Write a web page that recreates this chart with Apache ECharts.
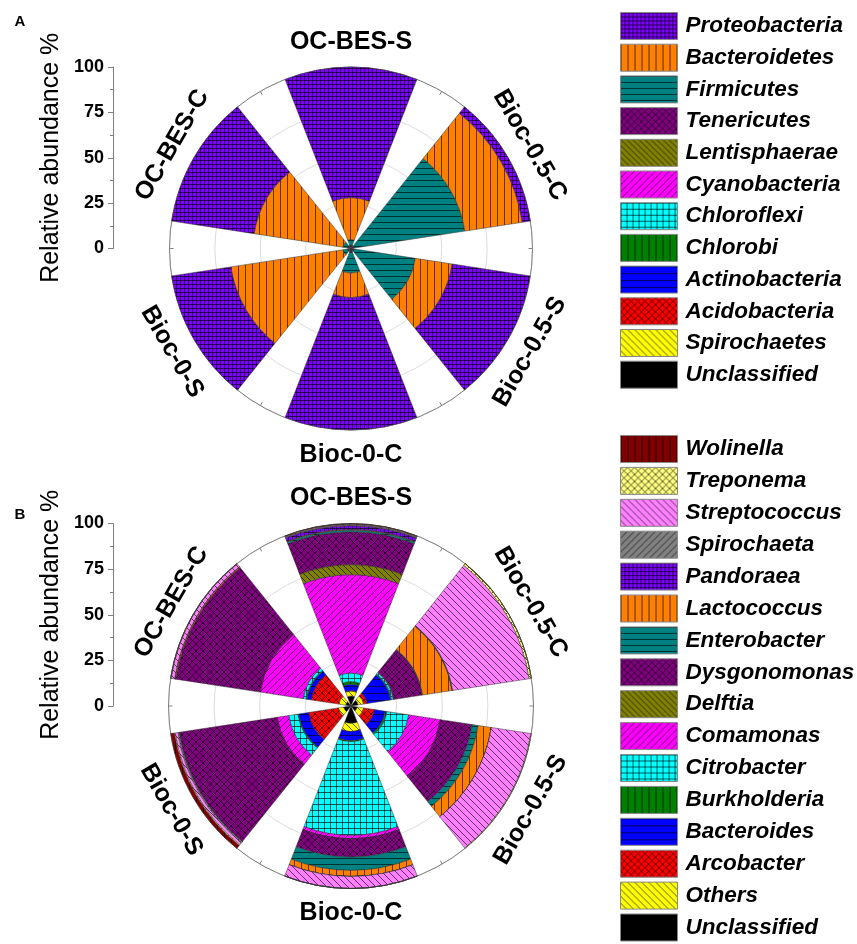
<!DOCTYPE html>
<html><head><meta charset="utf-8">
<script src="https://cdn.jsdelivr.net/npm/echarts@6/dist/echarts.min.js"></script>
<style>html,body{margin:0;padding:0;background:#fff}#c{width:857px;height:944px}</style>
</head><body><div id="c"></div>
<script>
// ---------- DATA ----------
const categories = ['OC-BES-S', 'Bioc-0.5-C', 'Bioc-0.5-S', 'Bioc-0-C', 'Bioc-0-S', 'OC-BES-C'];
const radiusTicks = [0, 25, 50, 75, 100];
const yAxisName = 'Relative abundance %';

// Panel A (phyla), stacked from the centre outwards
const phylaOrder = ['Unclassified','Spirochaetes','Acidobacteria','Actinobacteria','Chlorobi','Chloroflexi','Cyanobacteria','Lentisphaerae','Tenericutes','Firmicutes','Bacteroidetes','Proteobacteria'];
const unclassifiedA  = [0.8, 0.7, 0.8, 0.9, 0.8, 0.8];
const spirochaetes   = [0.2, 0.2, 0.2, 0.2, 0.2, 0.2];
const acidobacteria  = [0.2, 0.2, 0.2, 0.2, 0.3, 0.3];
const actinobacteria = [0.3, 0.3, 0.3, 0.2, 0.2, 0.2];
const chlorobi       = [0.1, 0.1, 0.1, 0.1, 0.1, 0.1];
const chloroflexi    = [0.1, 0.2, 0.1, 0.1, 0.1, 0.1];
const cyanobacteria  = [0.1, 0.1, 0.1, 0.1, 0.1, 0.1];
const lentisphaerae  = [0.1, 0.1, 0.0, 0.1, 0.0, 0.1];
const tenericutes    = [0.1, 0.1, 0.1, 0.1, 0.2, 0.1];
const firmicutes     = [3.0, 61.5, 34.0, 11.5, 2.5, 2.5];
const bacteroidetes  = [23.0, 32.0, 20.5, 13.5, 62.5, 49.5];
const proteobacteria = [72.0, 4.5, 43.5, 73.0, 33.0, 46.0];
const phylaValues = [unclassifiedA, spirochaetes, acidobacteria, actinobacteria, chlorobi, chloroflexi, cyanobacteria, lentisphaerae, tenericutes, firmicutes, bacteroidetes, proteobacteria];

// Panel B (genera), stacked from the centre outwards
const generaOrder = ['Unclassified','Others','Arcobacter','Bacteroides','Burkholderia','Citrobacter','Comamonas','Delftia','Dysgonomonas','Enterobacter','Lactococcus','Pandoraea','Spirochaeta','Streptococcus','Treponema','Wolinella'];
const unclassifiedB = [5.5, 4.0, 3.5, 9.5, 4.0, 3.0];
const others        = [2.7, 3.0, 3.5, 4.5, 3.0, 3.8];
const arcobacter    = [0.3, 2.0, 6.0, 0.0, 16.5, 15.2];
const bacteroides   = [3.4, 13.0, 6.0, 5.0, 5.5, 2.5];
const burkholderia  = [1.5, 0.5, 1.0, 0.5, 0.5, 0.5];
const citrobacter   = [4.6, 1.0, 12.0, 51.4, 5.0, 1.5];
const comamonas     = [54.0, 0.5, 17.6, 1.8, 6.5, 23.9];
const delftia       = [5.5, 0.0, 0.0, 0.0, 0.0, 0.0];
const dysgonomonas  = [18.0, 15.5, 17.6, 10.1, 54.0, 46.8];
const enterobacter  = [1.0, 0.3, 3.3, 7.3, 0.0, 0.0];
const lactococcus   = [0.3, 16.2, 7.3, 3.3, 0.0, 0.6];
const pandoraea     = [2.0, 0.2, 0.0, 0.0, 0.3, 0.0];
const spirochaeta   = [0.4, 0.2, 0.0, 0.0, 0.7, 0.0];
const streptococcus = [0.4, 42.4, 21.9, 6.6, 1.5, 2.0];
const treponema     = [0.2, 1.2, 0.3, 0.0, 0.5, 0.2];
const wolinella     = [0.2, 0.0, 0.0, 0.0, 2.0, 0.0];
const generaValues = [unclassifiedB, others, arcobacter, bacteroides, burkholderia, citrobacter, comamonas, delftia, dysgonomonas, enterobacter, lactococcus, pandoraea, spirochaeta, streptococcus, treponema, wolinella];

// ---------- STYLES ----------
function tile(bg, kind, s) {
  const c = document.createElement('canvas'); c.width = s; c.height = s;
  const g = c.getContext('2d'); g.fillStyle = bg; g.fillRect(0, 0, s, s);
  if (kind === 'solid') return c;
  g.strokeStyle = 'rgba(0,0,0,0.62)'; g.lineWidth = 1;
  g.beginPath();
  if (kind === 'v' || kind === 'grid') { g.moveTo(0.5, 0); g.lineTo(0.5, s); }
  if (kind === 'h' || kind === 'grid') { g.moveTo(0, 0.5); g.lineTo(s, 0.5); }
  if (kind === 'fwd' || kind === 'x') { g.moveTo(-1, s + 1); g.lineTo(s + 1, -1); g.moveTo(-1, 1); g.lineTo(1, -1); g.moveTo(s - 1, s + 1); g.lineTo(s + 1, s - 1); }
  if (kind === 'back' || kind === 'x') { g.moveTo(-1, -1); g.lineTo(s + 1, s + 1); g.moveTo(s - 1, -1); g.lineTo(s + 1, 1); g.moveTo(-1, s - 1); g.lineTo(1, s + 1); }
  g.stroke();
  return c;
}
const styleMap = {
  Proteobacteria: ['#8000FF', 'grid', 4], Bacteroidetes: ['#FF8000', 'v', 7], Firmicutes: ['#008080', 'h', 6],
  Tenericutes: ['#800080', 'x', 7], Lentisphaerae: ['#808000', 'back', 6], Cyanobacteria: ['#FF00FF', 'fwd', 7],
  Chloroflexi: ['#00FFFF', 'grid', 6], Chlorobi: ['#008000', 'v', 7], Actinobacteria: ['#0000FF', 'h', 7],
  Acidobacteria: ['#FF0000', 'x', 7], Spirochaetes: ['#FFFF00', 'back', 7], Unclassified: ['#000000', 'solid', 4],
  Wolinella: ['#800000', 'v', 7], Treponema: ['#FFFF80', 'x', 7], Streptococcus: ['#FF80FF', 'back', 7],
  Spirochaeta: ['#808080', 'fwd', 7], Pandoraea: ['#8000FF', 'grid', 4], Lactococcus: ['#FF8000', 'v', 7],
  Enterobacter: ['#008080', 'h', 6], Dysgonomonas: ['#800080', 'x', 7], Delftia: ['#808000', 'back', 6],
  Comamonas: ['#FF00FF', 'fwd', 7], Citrobacter: ['#00FFFF', 'grid', 6], Burkholderia: ['#008000', 'v', 7],
  Bacteroides: ['#0000FF', 'h', 7], Arcobacter: ['#FF0000', 'x', 7], Others: ['#FFFF00', 'back', 7]
};
function fillFor(name) {
  const s = styleMap[name];
  if (s[1] === 'solid') return s[0];
  return { image: tile(s[0], s[1], s[2]), repeat: 'repeat' };
}

const FONT = '"Liberation Sans", Arial, Helvetica, sans-serif';
const polars = [
  { center: [351, 248.5], radius: 181.5 },
  { center: [351, 706], radius: 182.5 }
];
const startAngle = 120;

function makeSeries(names, values, idx, stack) {
  return names.map((n, i) => ({
    name: n, type: 'bar', coordinateSystem: 'polar', polarIndex: idx, stack: stack,
    barWidth: '71%', data: values[i],
    itemStyle: { color: fillFor(n), borderColor: '#333', borderWidth: 0.5 },
    emphasis: { disabled: true }
  }));
}

const series = makeSeries(phylaOrder, phylaValues, 0, 'A').concat(makeSeries(generaOrder, generaValues, 1, 'B'));

// angular category labels
const graphics = [];
polars.forEach(p => {
  const rl = p.radius + 25;
  categories.forEach((c, i) => {
    const deg = startAngle - 60 * i - 30;
    const a = deg * Math.PI / 180;
    let rot = (deg - 90) * Math.PI / 180;
    let d = ((deg % 360) + 360) % 360;
    if (d > 180 && d < 360) rot = (deg + 90) * Math.PI / 180;
    graphics.push({
      type: 'text', x: p.center[0] + rl * Math.cos(a), y: p.center[1] - rl * Math.sin(a),
      rotation: rot,
      style: { text: c, font: 'bold 25px ' + FONT, fill: '#000', align: 'center', verticalAlign: 'middle' }
    });
  });
});
graphics.push({ type: 'text', x: 20, y: 22, style: { text: 'A', font: 'bold 15px ' + FONT, fill: '#000', align: 'center', verticalAlign: 'middle' } });
graphics.push({ type: 'text', x: 20, y: 515, style: { text: 'B', font: 'bold 15px ' + FONT, fill: '#000', align: 'center', verticalAlign: 'middle' } });

function yAx(gi) {
  return {
    gridIndex: gi, type: 'value', min: radiusTicks[0], max: radiusTicks[radiusTicks.length - 1], interval: 25,
    name: yAxisName, nameLocation: 'middle', nameRotate: 90, nameGap: 49,
    nameTextStyle: { fontSize: 25, color: '#000', fontFamily: FONT },
    axisLine: { show: true, lineStyle: { color: '#808080' } },
    axisTick: { show: true, length: 5, lineStyle: { color: '#808080' } },
    minorTick: { show: true, splitNumber: 2, length: 3, lineStyle: { color: '#808080' } },
    axisLabel: { fontSize: 18, fontWeight: 'bold', color: '#000', margin: 9, fontFamily: FONT },
    splitLine: { show: false }
  };
}
function angAx(pi) {
  return {
    polarIndex: pi, type: 'category', data: categories, startAngle: startAngle, clockwise: true,
    axisLine: { show: true, lineStyle: { color: '#808080', width: 1 } },
    axisTick: { show: true, inside: true, length: 4, lineStyle: { color: '#808080' } },
    axisLabel: { show: false }, splitLine: { show: false }
  };
}
function radAx(pi) {
  return {
    polarIndex: pi, type: 'value', min: 0, max: 100, interval: 25,
    axisLine: { show: false }, axisTick: { show: false }, axisLabel: { show: false },
    splitLine: { show: true, lineStyle: { color: '#dcdcdc', width: 1 } }
  };
}
const legendText = { fontSize: 22.5, lineHeight: 27, fontWeight: 'bold', fontStyle: 'italic', color: '#000', fontFamily: FONT, padding: [0, 0, 0, 3] };

const option = {
  animation: false,
  backgroundColor: '#fff',
  polar: polars,
  angleAxis: [angAx(0), angAx(1)],
  radiusAxis: [radAx(0), radAx(1)],
  grid: [
    { left: 113, top: 67, width: 1, height: 181.5 },
    { left: 113, top: 523.5, width: 1, height: 182.5 }
  ],
  xAxis: [{ gridIndex: 0, type: 'value', show: false }, { gridIndex: 1, type: 'value', show: false }],
  yAxis: [yAx(0), yAx(1)],
  legend: [
    { orient: 'vertical', left: 620, top: 12, height: 400, padding: 0, itemWidth: 57, itemHeight: 27, itemGap: 3.7, icon: 'rect',
      data: phylaOrder.slice().reverse(), textStyle: legendText, selectedMode: false,
      itemStyle: { borderColor: '#888', borderWidth: 1 } },
    { orient: 'vertical', left: 620, top: 435, height: 509, padding: 0, itemWidth: 57, itemHeight: 27, itemGap: 3.9, icon: 'rect',
      data: generaOrder.slice().reverse(), textStyle: legendText, selectedMode: false,
      itemStyle: { borderColor: '#888', borderWidth: 1 } }
  ],
  graphic: graphics,
  series: series
};
const chart = echarts.init(document.getElementById('c'), null, { renderer: 'canvas' });
chart.setOption(option);
</script>
</body></html>
